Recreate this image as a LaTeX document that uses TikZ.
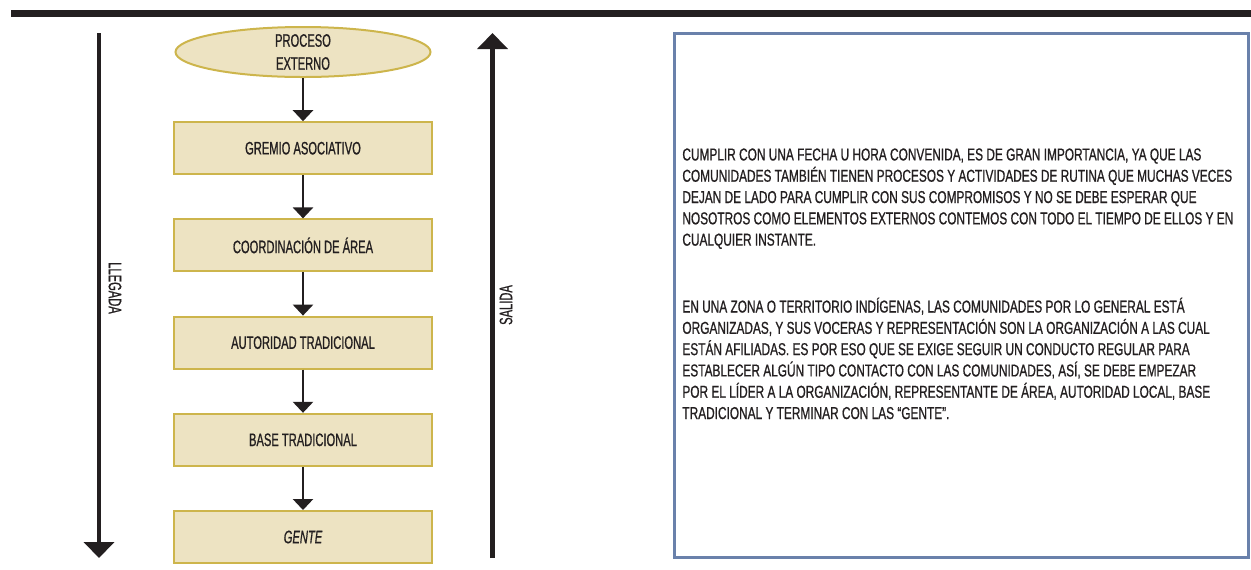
\documentclass[tikz,border=0pt]{standalone}
\usepackage{fontspec}
\setmainfont{Liberation Sans}[FakeStretch=0.62, FakeBold=0.8]
\newfontfamily\textolargo{Liberation Sans}[FakeStretch=0.69, FakeBold=0.8]
\usetikzlibrary{arrows.meta,positioning,shapes.geometric}
\definecolor{tinta}{HTML}{231F20}
\definecolor{caja}{HTML}{EDE3C2}
\definecolor{borde}{HTML}{CDB54C}
\definecolor{marco}{HTML}{6A81AB}
\tikzset{
  paso/.style={draw=borde, fill=caja, line width=1pt, minimum width=129pt, minimum height=26pt, inner sep=0pt, text=tinta, font=\fontsize{9}{11}\selectfont},
  externo/.style={ellipse, draw=borde, fill=caja, line width=1pt, minimum width=127.5pt, minimum height=25pt, inner sep=0pt},
  flecha/.style={draw=tinta, line width=1.3pt, -{Triangle[width=10pt,length=5.5pt]}},
  flechota/.style={draw=tinta, line width=2.2pt, -{Triangle[width=15pt,length=8pt]}},
  rotulo/.style={text=tinta, font=\fontsize{9}{11}\selectfont, inner sep=0pt}
}
\begin{document}
\begin{tikzpicture}[x=0.5pt,y=-0.5pt, node distance=21.6pt]
\useasboundingbox (0,0) rectangle (1251,569);

 \draw[line width=3.5pt, tinta] (11,13.5) -- (1251,13.5); % barra de arriba

% cadena de pasos
\node[externo, label={[rotulo, align=center, font=\fontsize{9}{11.5}\selectfont]center:PROCESO\\EXTERNO}] (proceso) at (303,52) {};
\node[paso, below=of proceso] (gremio) {GREMIO ASOCIATIVO};
\node[paso, below=of gremio] (coordinacion) {COORDINACIÓN DE ÁREA};
\node[paso, below=of coordinacion] (autoridad) {AUTORIDAD TRADICIONAL};
\node[paso, below=of autoridad] (base) {BASE TRADICIONAL};
\node[paso, below=of base] (gente) {\itshape GENTE};

\foreach \de/\a in {proceso/gremio, gremio/coordinacion, coordinacion/autoridad, autoridad/base, base/gente}{
    \draw[flecha] (\de) -- (\a);
}

% llegada y salida
\coordinate (llegada-ini) at (99,33);
\coordinate (llegada-fin) at (99,558);
\coordinate (salida-ini) at (492.5,558);
\coordinate (salida-fin) at (492.5,33);
\draw[flechota] (llegada-ini) -- (llegada-fin);
\draw[flechota] (salida-ini) -- (salida-fin);
\node[rotulo, rotate=-90] (llegada) at (115,288) {LLEGADA};
\node[rotulo, rotate=90] (salida) at (506,305) {SALIDA};

% cuadro de texto
\node[draw=marco, line width=1.5pt, minimum width=287pt, minimum height=262pt] (cuadro) at (961.5,295.5) {};
\node[anchor=north west, align=left, inner sep=0pt, text=tinta, font=\textolargo\fontsize{8.6}{10.65}\selectfont] (texto) at (682,148) {%
CUMPLIR CON UNA FECHA U HORA CONVENIDA, ES DE GRAN IMPORTANCIA, YA QUE LAS\\
COMUNIDADES TAMBIÉN TIENEN PROCESOS Y ACTIVIDADES DE RUTINA QUE MUCHAS VECES\\
DEJAN DE LADO PARA CUMPLIR CON SUS COMPROMISOS Y NO SE DEBE ESPERAR QUE\\
NOSOTROS COMO ELEMENTOS EXTERNOS CONTEMOS CON TODO EL TIEMPO DE ELLOS Y EN\\
CUALQUIER INSTANTE.\\[22.8pt]
EN UNA ZONA O TERRITORIO INDÍGENAS, LAS COMUNIDADES POR LO GENERAL ESTÁ\\
ORGANIZADAS, Y SUS VOCERAS Y REPRESENTACIÓN SON LA ORGANIZACIÓN A LAS CUAL\\
ESTÁN AFILIADAS. ES POR ESO QUE SE EXIGE SEGUIR UN CONDUCTO REGULAR PARA\\
ESTABLECER ALGÚN TIPO CONTACTO CON LAS COMUNIDADES, ASÍ, SE DEBE EMPEZAR\\
POR EL LÍDER A LA ORGANIZACIÓN, REPRESENTANTE DE ÁREA, AUTORIDAD LOCAL, BASE\\
TRADICIONAL Y TERMINAR CON LAS “GENTE”.};

\end{tikzpicture}
\end{document}
